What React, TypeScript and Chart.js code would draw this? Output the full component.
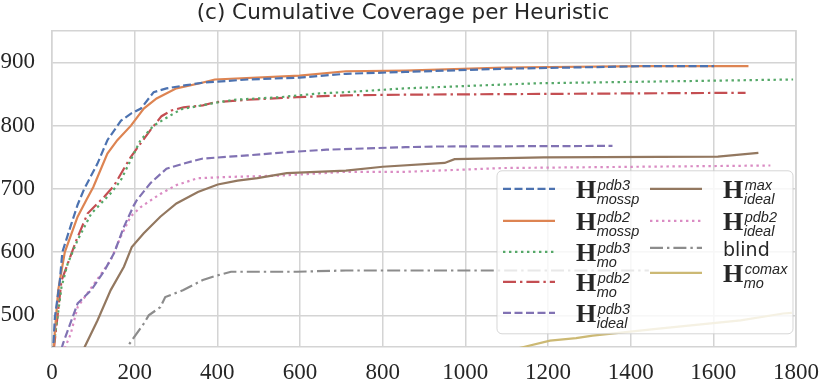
import React, { useEffect, useRef } from 'react';
import { Chart, registerables } from 'chart.js';

Chart.register(...registerables);

// ---- data (x = time / expansions axis, y = cumulative coverage) ----
const pdb3MosspX = [0, 3, 7, 19, 25, 47, 62, 78, 110, 134, 167, 191, 215, 246, 277, 325, 365, 473, 599, 711, 855, 1093, 1427, 1602];
const pdb3MosspY = [420, 450, 497, 555, 600, 645, 675, 700, 740, 777, 808, 819, 827, 853, 859, 864, 868, 873, 876, 882, 885, 890, 894, 894];

const pdb2MosspX = [0, 4, 15, 31, 62, 85, 100, 134, 158, 191, 222, 253, 301, 358, 394, 599, 711, 855, 1093, 1427, 1685];
const pdb2MosspY = [420, 450, 540, 600, 656, 685, 703, 756, 777, 800, 827, 843, 859, 867, 873, 879, 886, 887, 892, 894, 894];

const pdb3MoX = [0, 5, 23, 38, 62, 95, 142, 166, 190, 214, 246, 286, 313, 394, 441, 551, 647, 711, 855, 1172, 1793];
const pdb3MoY = [410, 456, 545, 582, 619, 661, 693, 713, 745, 777, 800, 816, 826, 836, 841, 845, 851, 853, 859, 867, 873];

const pdb2MoX = [0, 5, 23, 59, 86, 127, 150, 190, 238, 265, 289, 318, 365, 394, 473, 592, 711, 855, 1678];
const pdb2MoY = [410, 450, 555, 619, 661, 688, 705, 750, 793, 815, 824, 829, 832, 837, 841, 845, 848, 849, 852];

const pdb3IdealX = [15, 27, 47, 62, 95, 127, 150, 174, 198, 205, 238, 277, 318, 365, 473, 568, 664, 855, 926, 1356];
const pdb3IdealY = [430, 456, 492, 519, 540, 571, 598, 640, 674, 682, 709, 732, 740, 748, 753, 758, 762, 766, 767, 768];

const maxIdealX = [70, 79, 110, 142, 174, 193, 222, 262, 301, 353, 401, 449, 497, 568, 711, 800, 950, 974, 1189, 1611, 1709];
const maxIdealY = [430, 450, 492, 540, 577, 608, 630, 656, 677, 695, 707, 713, 717, 725, 729, 735, 741, 747, 750, 751, 757];

const pdb2IdealX = [20, 32, 45, 62, 103, 142, 166, 190, 214, 262, 301, 353, 432, 551, 711, 855, 1093, 1738];
const pdb2IdealY = [430, 450, 470, 513, 551, 587, 624, 656, 671, 692, 706, 717, 719, 721, 727, 727, 733, 737];

const blindX = [170, 182, 222, 234, 262, 274, 318, 365, 393, 433, 592, 711, 1062, 1444];
const blindY = [430, 450, 487, 500, 513, 529, 540, 556, 562, 569, 569, 571, 571, 571];

const comaxMoX = [1050, 1141, 1205, 1268, 1308, 1468, 1666, 1769, 1790];
const comaxMoY = [435, 450, 460, 464, 468, 479, 492, 503, 504];

const xTickValues = [0, 200, 400, 600, 800, 1000, 1200, 1400, 1600, 1800];
const yTickValues = [500, 600, 700, 800, 900];

const legendSup = ['pdb3', 'pdb2', 'pdb3', 'pdb2', 'pdb3', 'max', 'pdb2', '', 'comax'];
const legendSub = ['mossp', 'mossp', 'mo', 'mo', 'ideal', 'ideal', 'ideal', '', 'mo'];
const legendPlain = ['', '', '', '', '', '', '', 'blind', ''];

const TITLE = '(c) Cumulative Coverage per Heuristic';

const TEXT = '#262626';
const GRID = '#d4d4d4';
const LW = 2.2;

const DASHED = [8, 3.5];
const DOTTED = [2.4, 3.6];
const DASHDOT = [13, 4, 2.4, 4];

const series = [
  { x: pdb3MosspX, y: pdb3MosspY, color: '#4C72B0', dash: DASHED },
  { x: pdb2MosspX, y: pdb2MosspY, color: '#DD8452', dash: [] },
  { x: pdb3MoX, y: pdb3MoY, color: '#55A868', dash: DOTTED },
  { x: pdb2MoX, y: pdb2MoY, color: '#C44E52', dash: DASHDOT },
  { x: pdb3IdealX, y: pdb3IdealY, color: '#8172B3', dash: DASHED },
  { x: maxIdealX, y: maxIdealY, color: '#937860', dash: [] },
  { x: pdb2IdealX, y: pdb2IdealY, color: '#DA8BC3', dash: DOTTED },
  { x: blindX, y: blindY, color: '#8C8C8C', dash: DASHDOT },
  { x: comaxMoX, y: comaxMoY, color: '#CCB974', dash: [] },
];

const legendPlugin = {
  id: 'customLegendFrame',
  afterDraw(chart: any) {
    const ctx: CanvasRenderingContext2D = chart.ctx;
    const a = chart.chartArea;
    ctx.save();
    // top/right spines
    ctx.strokeStyle = GRID;
    ctx.lineWidth = 1.5;
    ctx.setLineDash([]);
    ctx.beginPath();
    ctx.moveTo(a.left, a.top);
    ctx.lineTo(a.right, a.top);
    ctx.lineTo(a.right, a.bottom);
    ctx.stroke();

    // legend box
    const bx = a.left + 445;
    const by = a.top + 140;
    const bw = 296;
    const bh = 163;
    const r = 5;
    ctx.beginPath();
    ctx.moveTo(bx + r, by);
    ctx.lineTo(bx + bw - r, by);
    ctx.arcTo(bx + bw, by, bx + bw, by + r, r);
    ctx.lineTo(bx + bw, by + bh - r);
    ctx.arcTo(bx + bw, by + bh, bx + bw - r, by + bh, r);
    ctx.lineTo(bx + r, by + bh);
    ctx.arcTo(bx, by + bh, bx, by + bh - r, r);
    ctx.lineTo(bx, by + r);
    ctx.arcTo(bx, by, bx + r, by, r);
    ctx.closePath();
    ctx.fillStyle = 'rgba(255,255,255,0.8)';
    ctx.fill();
    ctx.strokeStyle = 'rgba(204,204,204,0.8)';
    ctx.lineWidth = 1;
    ctx.stroke();

    const col1 = { hx: a.left + 451, tx: a.left + 524, rows: [158, 190, 221, 251, 282] };
    const col2 = { hx: a.left + 598, tx: a.left + 671, rows: [158, 190, 217, 242] };
    series.forEach((s, i) => {
      const col = i < 5 ? col1 : col2;
      const ry = a.top + col.rows[i < 5 ? i : i - 5];
      ctx.strokeStyle = s.color;
      ctx.lineWidth = LW;
      ctx.setLineDash(s.dash);
      ctx.beginPath();
      ctx.moveTo(col.hx, ry);
      ctx.lineTo(col.hx + 52, ry);
      ctx.stroke();
      ctx.setLineDash([]);
      ctx.fillStyle = TEXT;
      ctx.textAlign = 'left';
      ctx.textBaseline = 'alphabetic';
      if (legendPlain[i]) {
        ctx.font = '19px "DejaVu Sans"';
        ctx.fillText(legendPlain[i], col.tx, ry + 8);
      } else {
        ctx.font = 'bold 26px "Liberation Serif"';
        ctx.fillText('H', col.tx, ry + 9);
        const hw = ctx.measureText('H').width;
        ctx.font = 'italic 14.5px "Liberation Sans"';
        ctx.fillText(legendSup[i], col.tx + hw + 1.5, ry + 1);
        ctx.fillText(legendSub[i], col.tx + hw + 0.5, ry + 15);
      }
    });
    ctx.restore();
  },
};

const tickFont = { family: '"Liberation Serif", serif', size: 23 };

export default function App() {
  const ref = useRef<HTMLCanvasElement | null>(null);
  useEffect(() => {
    document.body.style.margin = '0';
    if (!ref.current) return;
    const chart = new Chart(ref.current, {
      type: 'line',
      data: {
        datasets: series.map((s) => ({
          data: s.x.map((x, i) => ({ x, y: s.y[i] })),
          borderColor: s.color,
          backgroundColor: s.color,
          borderWidth: LW,
          borderDash: s.dash,
          pointRadius: 0,
          tension: 0,
          fill: false,
        })),
      },
      options: {
        animation: false,
        responsive: false,
        devicePixelRatio: 1,
        layout: { padding: { left: 0, right: 25, top: 0, bottom: 0 } },
        plugins: {
          legend: { display: false },
          tooltip: { enabled: false },
          title: {
            display: true,
            text: TITLE,
            color: TEXT,
            font: { family: '"DejaVu Sans"', size: 21.5, weight: 'normal' },
            padding: { top: 0, bottom: 4 },
          },
        },
        scales: {
          x: {
            type: 'linear',
            min: 0,
            max: 1800,
            afterBuildTicks: (s: any) => {
              s.ticks = xTickValues.map((v) => ({ value: v }));
            },
            ticks: {
              color: TEXT,
              font: tickFont,
              padding: 12,
              maxRotation: 0,
              autoSkip: false,
              callback: (v: any) => String(v),
            },
            grid: { color: GRID, lineWidth: 1.5, drawTicks: false },
            border: { color: GRID, width: 1.5 },
            afterFit: (s: any) => {
              s.height = 38;
            },
          },
          y: {
            type: 'linear',
            min: 450,
            max: 950,
            afterBuildTicks: (s: any) => {
              s.ticks = yTickValues.map((v) => ({ value: v }));
            },
            ticks: {
              color: TEXT,
              font: tickFont,
              padding: 17,
              callback: (v: any) => String(v),
            },
            grid: { color: GRID, lineWidth: 1.5, drawTicks: false },
            border: { color: GRID, width: 1.5 },
            afterFit: (s: any) => {
              s.width = 52;
            },
          },
        },
      } as any,
      plugins: [legendPlugin],
    });
    return () => chart.destroy();
  }, []);
  return (
    <div style={{ width: 831, height: 385 }}>
      <canvas ref={ref} width={831} height={385} style={{ display: 'block' }} />
    </div>
  );
}
